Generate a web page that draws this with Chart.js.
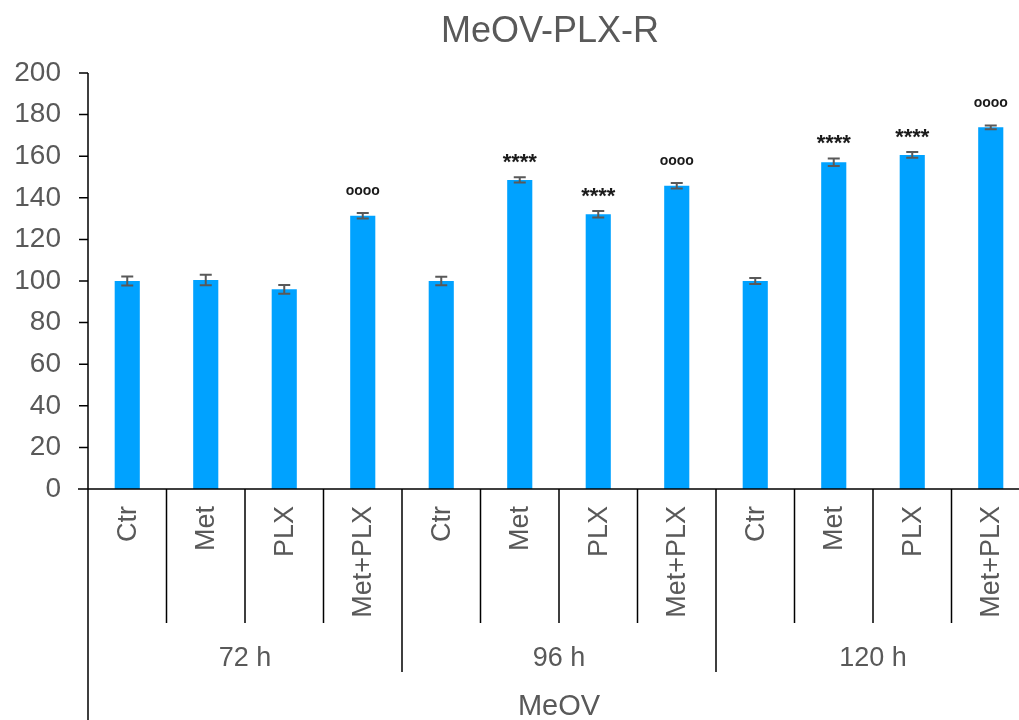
<!DOCTYPE html>
<html>
<head>
<meta charset="utf-8">
<script src="https://cdn.jsdelivr.net/npm/chart.js@4.4.1/dist/chart.umd.min.js"></script>
<style>
  html, body { margin: 0; padding: 0; background: #fff; overflow: hidden; }
  #wrap { width: 1019px; height: 720px; overflow: hidden; position: relative; }
  canvas { display: block; }
</style>
</head>
<body>
<div id="wrap"><canvas id="c" width="1100" height="720"></canvas></div>
<script>
// Cell line / time points / treatments
const cellLine = 'MeOV';
const chartTitle = 'MeOV-PLX-R';
const timePoints = ['72 h', '96 h', '120 h'];
const treatments = ['Ctr', 'Met', 'PLX', 'Met+PLX'];

// Viability (% of control), mean and SEM per bar, in time-point order
const means = [100, 100.5, 96, 131.4, 100, 148.6, 132.1, 145.8, 100, 157.1, 160.6, 173.9];
const errors = [2.2, 2.5, 2.1, 1.3, 2.0, 1.3, 1.6, 1.3, 1.5, 1.8, 1.4, 0.9];
// Significance marks: **** vs control, oooo vs single agents
const marks = ['', '', '', 'oooo', '', '****', '****', 'oooo', '', '****', '****', 'oooo'];

const yTicks = [0, 20, 40, 60, 80, 100, 120, 140, 160, 180, 200];

const labels = [];
timePoints.forEach(t => treatments.forEach(tr => labels.push(tr)));

const FONT = "'Liberation Sans', Arial, sans-serif";
const TEXT = '#595959';

const decor = {
  id: 'decor',
  afterDatasetsDraw(chart) {
    const ctx = chart.ctx;
    const y = chart.scales.y;
    const meta = chart.getDatasetMeta(0);
    ctx.save();
    // error bars
    ctx.strokeStyle = '#595959';
    ctx.lineWidth = 2;
    meta.data.forEach((bar, i) => {
      const top = y.getPixelForValue(means[i] + errors[i]);
      const bot = y.getPixelForValue(means[i] - errors[i]);
      ctx.beginPath();
      ctx.moveTo(bar.x, top); ctx.lineTo(bar.x, bot);
      ctx.moveTo(bar.x - 6, top); ctx.lineTo(bar.x + 6, top);
      ctx.moveTo(bar.x - 6, bot); ctx.lineTo(bar.x + 6, bot);
      ctx.stroke();
    });
    // significance marks
    ctx.fillStyle = '#1a1a1a';
    ctx.textAlign = 'center';
    ctx.textBaseline = 'alphabetic';
    meta.data.forEach((bar, i) => {
      if (!marks[i]) return;
      const top = y.getPixelForValue(means[i] + errors[i]);
      if (marks[i][0] === '*') {
        ctx.font = 'bold 22px ' + FONT;
        ctx.fillText(marks[i], bar.x, top - 8);
      } else {
        ctx.font = 'bold 14px ' + FONT;
        ctx.fillText(marks[i], bar.x, top - 18);
      }
    });
    ctx.restore();
  },
  afterDraw(chart) {
    const ctx = chart.ctx;
    const x = chart.scales.x;
    const y = chart.scales.y;
    const area = chart.chartArea;
    const y0 = y.getPixelForValue(0);
    ctx.save();
    ctx.strokeStyle = '#000';
    ctx.lineWidth = 1.5;
    ctx.beginPath();
    // y axis line running down through the label rows
    ctx.moveTo(area.left, area.top); ctx.lineTo(area.left, chart.height);
    // x axis line
    ctx.moveTo(area.left - 10, y0); ctx.lineTo(chart.width, y0);
    // y tick marks
    yTicks.forEach(v => {
      const py = y.getPixelForValue(v);
      ctx.moveTo(area.left - 9, py); ctx.lineTo(area.left, py);
    });
    // category and group dividers
    for (let i = 1; i <= labels.length; i++) {
      const px = x.getPixelForValue(i - 0.5);
      ctx.moveTo(px, y0);
      ctx.lineTo(px, i % treatments.length === 0 ? y0 + 183 : y0 + 134);
    }
    ctx.stroke();

    ctx.fillStyle = TEXT;
    // rotated treatment labels
    ctx.font = '27px ' + FONT;
    labels.forEach((lab, i) => {
      const cx = x.getPixelForValue(i);
      ctx.save();
      ctx.translate(cx, y0 + 17);
      ctx.rotate(-Math.PI / 2);
      ctx.textAlign = 'right';
      ctx.textBaseline = 'middle';
      ctx.fillText(lab, 0, 1);
      ctx.restore();
    });
    // time point labels
    ctx.font = '27px ' + FONT;
    ctx.textAlign = 'center';
    ctx.textBaseline = 'middle';
    timePoints.forEach((t, g) => {
      const a = x.getPixelForValue(g * treatments.length - 0.5);
      const b = x.getPixelForValue((g + 1) * treatments.length - 0.5);
      ctx.fillText(t, (a + b) / 2, y0 + 170);
    });
    // cell line label
    ctx.font = '29px ' + FONT;
    ctx.fillText(cellLine, (area.left + area.right) / 2, y0 + 218);
    // title
    ctx.font = '36px ' + FONT;
    ctx.textBaseline = 'alphabetic';
    ctx.fillText(chartTitle, chart.width / 2, 42);
    ctx.restore();
  }
};

new Chart(document.getElementById('c'), {
  type: 'bar',
  data: {
    labels: labels,
    datasets: [{
      data: means,
      backgroundColor: '#00A2FF',
      borderWidth: 0,
      barPercentage: 0.32,
      categoryPercentage: 1.0
    }]
  },
  options: {
    responsive: false,
    devicePixelRatio: 1,
    animation: false,
    layout: { padding: { top: 73, right: 70, left: 0, bottom: 0 } },
    plugins: { legend: { display: false }, tooltip: { enabled: false }, title: { display: false } },
    scales: {
      x: {
        type: 'category',
        offset: true,
        grid: { display: false },
        border: { display: false },
        ticks: { display: false },
        afterFit: s => { s.height = 231; }
      },
      y: {
        min: 0,
        max: 200,
        grid: { display: false },
        border: { display: false },
        ticks: {
          stepSize: 20,
          color: TEXT,
          font: { family: FONT, size: 28 },
          padding: 19
        },
        afterFit: s => { s.width = 88; }
      }
    }
  },
  plugins: [decor]
});
</script>
</body>
</html>
